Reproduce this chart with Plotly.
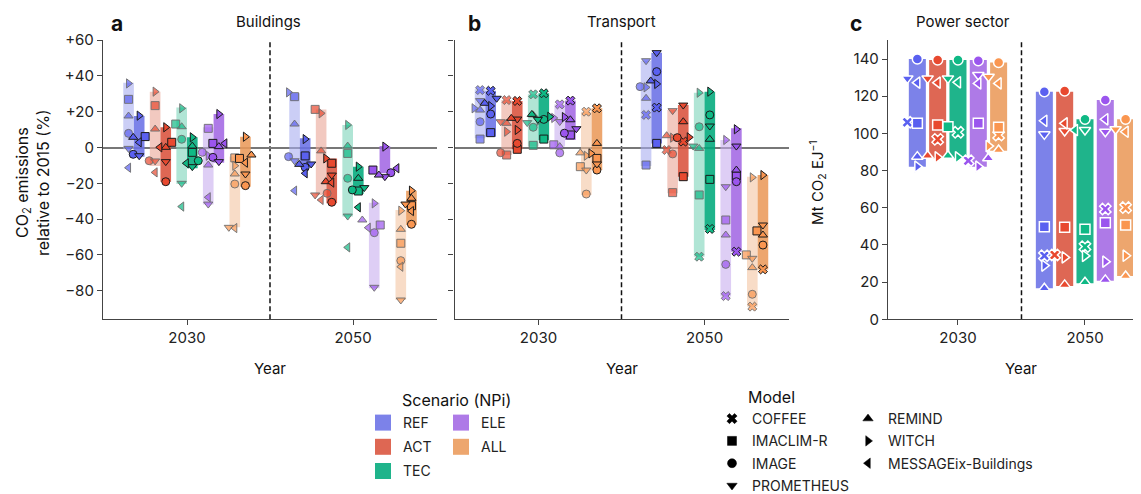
import plotly.graph_objects as go

# ---------------------------------------------------------------- data
SCENARIOS = ["REF", "ACT", "TEC", "ELE", "ALL"]
YEARS = ["2030", "2050"]

# buildings, CO2 change vs 2015 (%), rows = scenarios, cols = BLD_MODELS
BLD_MODELS = ["IMACLIM-R", "IMAGE", "PROMETHEUS", "REMIND", "WITCH", "MESSAGEix-Buildings"]
bld_2030_light = [[26.9, 7.9, -0.5, 17.6, 35.8, -11.3],
                  [23.4, -7.4, -7.5, 10.3, 31.2, -13.9],
                  [13.1, 4.6, -20.0, 11.6, 21.9, -33.0],
                  [10.7, -2.7, -31.6, -9.8, -4.6, -27.8],
                  [-5.8, -20.4, -44.6, -14.8, -10.2, -45.0]]
bld_2030_dark = [[6.1, -3.8, -4.6, 5.7, 17.8, 2.9],
                 [2.9, -19.1, -7.9, 0.1, 11.3, 0.1],
                 [-2.7, -7.4, -10.7, 0.8, 5.7, -8.8],
                 [2.3, -5.5, -7.9, 0.5, 18.7, 2.3],
                 [-6.1, -21.3, -14.8, -4.2, 6.0, -8.5]]
bld_2050_light = [[28.4, -5.1, -7.4, 13.1, 30.8, -24.1],
                  [21.3, -25.6, -26.5, -1.9, 19.1, -29.3],
                  [-3.3, -17.2, -38.3, 0.8, 12.6, -55.8],
                  [-43.3, -47.6, -78.1, -40.5, -31.2, -44.8],
                  [-53.5, -63.2, -85.2, -45.7, -35.3, -66.6]]
bld_2050_dark = [[-4.7, -11.1, -9.2, -9.4, 4.7, -14.4],
                 [-8.8, -30.6, -15.4, -19.1, -6.1, -19.6],
                 [-24.3, -23.7, -22.4, -17.2, -10.7, -33.4],
                 [-12.6, -14.1, -16.3, -15.4, 0.5, -11.6],
                 [-32.5, -42.9, -31.6, -28.4, -24.1, -35.5]]
# range bars (low, high)
bld_2030_light_bar = [(-1.0, 36.2), (-10.3, 31.2), (-20.4, 22.3), (-31.8, 11.3), (-44.6, -5.0)]
bld_2030_dark_bar = [(-5.1, 17.6), (-19.1, 11.3), (-11.6, 5.7), (-8.5, 18.7), (-21.9, 6.0)]
bld_2050_light_bar = [(-7.0, 30.3), (-26.5, 21.3), (-38.6, 12.6), (-78.7, -30.8), (-85.2, -34.9)]
bld_2050_dark_bar = [(-10.7, 5.1), (-31.2, -6.1), (-26.0, -10.7), (-14.4, 0.8), (-43.3, -24.1)]

# transport, CO2 change vs 2015 (%)
TRN_MODELS = ["COFFEE", "IMACLIM-R", "IMAGE", "PROMETHEUS", "REMIND", "WITCH"]
trn_2030_light = [[32.1, 4.7, 14.4, 26.2, 20.9, 21.9],
                  [26.5, -4.2, -2.9, 14.4, 13.5, 8.8],
                  [29.7, 1.2, 11.3, 13.9, 18.2, 15.0],
                  [24.1, 1.5, -3.0, 14.5, 0.5, 16.5],
                  [20.0, -10.7, -26.0, -12.6, -3.0, -4.6]]
trn_2030_dark = [[31.7, 8.3, 18.7, 27.5, 24.7, 23.2],
                 [26.0, -1.0, 2.3, 15.9, 16.3, 9.8],
                 [30.3, 4.7, 15.7, 15.7, 18.5, 17.2],
                 [26.2, 7.0, 8.0, 10.5, 15.5, 17.0],
                 [21.9, -6.1, -12.6, -9.2, 2.3, -3.3]]
trn_2050_light = [[18.2, -9.8, 34.0, 48.5, 27.5, 33.6],
                  [-1.4, -25.2, -3.6, 20.6, 6.6, 5.5],
                  [-61.0, -26.5, 11.6, 0.8, -0.5, 30.6],
                  [-83.0, -40.5, -65.3, -21.9, -48.9, 4.2],
                  [-88.9, -60.0, -82.0, -61.9, -67.1, -16.7]]
trn_2050_dark = [[22.3, 2.3, 42.4, 53.0, 37.2, 35.5],
                 [3.3, -16.3, 5.5, 23.7, 14.4, 5.7],
                 [-45.5, -17.8, 18.2, 12.0, 4.6, 31.2],
                 [-58.2, -15.9, -19.1, 0.8, -12.6, 10.2],
                 [-68.1, -46.6, -54.5, -43.3, -48.9, -15.4]]
trn_2030_light_bar = [(5.1, 32.5), (-4.2, 26.5), (0.5, 29.7), (0.5, 24.1), (-26.5, 20.0)]
trn_2030_dark_bar = [(6.0, 31.7), (-1.0, 26.0), (4.0, 30.3), (4.2, 26.2), (-12.6, 21.9)]
trn_2050_light_bar = [(-10.3, 48.5), (-25.6, 20.9), (-61.0, 30.6), (-83.3, 4.2), (-88.9, -16.3)]
trn_2050_dark_bar = [(2.3, 53.0), (-16.3, 23.7), (-46.1, 31.2), (-58.2, 10.7), (-68.1, -15.4)]

# power sector, Mt CO2 per EJ
PWR_MODELS = ["COFFEE", "IMACLIM-R", "IMAGE", "PROMETHEUS", "REMIND", "WITCH", "MESSAGEix-Buildings"]
pwr_2030 = [[106.0, 105.4, 140.0, 129.6, 87.5, 82.1, 127.3],
            [96.8, 104.5, 139.5, 129.6, 88.0, 87.1, 127.3],
            [100.6, 103.6, 139.5, 129.6, 88.0, 87.1, 127.5],
            [85.3, 105.4, 139.1, 131.4, 86.6, 82.1, 126.9],
            [99.1, 103.3, 138.2, 130.5, 91.1, 93.2, 126.9]]
pwr_2050 = [[34.2, 49.8, 122.4, 99.5, 16.7, 28.9, 106.8],
            [34.6, 49.5, 122.8, 101.3, 18.5, 33.3, 105.4],
            [39.1, 48.4, 107.6, 101.8, 19.9, 34.1, 101.8],
            [59.3, 52.0, 118.0, 100.9, 21.2, 31.0, 107.6],
            [60.1, 50.7, 107.6, 102.2, 23.3, 34.2, 100.9]]
pwr_2030_bar = [(82.1, 140.0), (86.6, 139.5), (86.6, 139.5), (82.1, 139.5), (90.7, 138.2)]
pwr_2050_bar = [(16.7, 122.4), (17.9, 122.4), (19.4, 107.6), (20.8, 118.0), (23.3, 107.6)]

# ---------------------------------------------------------------- style
MODEL_ORDER = ["COFFEE", "IMACLIM-R", "IMAGE", "PROMETHEUS", "REMIND", "WITCH", "MESSAGEix-Buildings"]
SYMBOLS = {"COFFEE": "x", "IMACLIM-R": "square", "IMAGE": "circle", "PROMETHEUS": "triangle-down",
           "REMIND": "triangle-up", "WITCH": "triangle-right", "MESSAGEix-Buildings": "triangle-left"}
MARKER_COL = ["#5a60f0", "#e8492f", "#0fb985", "#9b55ee", "#fa9650"]
BAR_DARK = ["#7c82e9", "#de6753", "#1fb48b", "#ae7ae7", "#eda66e"]
BAR_LIGHT = ["#cbcef6", "#f2c9c0", "#b0e5d5", "#decef5", "#f8dcc7"]
FONT = "Inter, Roboto, Arial, sans-serif"

# page body keeps its default 8px margin, so the figure is a bit smaller
PAGE_OFF = 8
W, H = 1141 - PAGE_OFF, 494 - PAGE_OFF


def rgba_on_white(hexcol, alpha):
    # rgba colour that gives hexcol when painted over white with given alpha
    r, g, b = (int(hexcol[i:i + 2], 16) for i in (1, 3, 5))
    f = lambda c: max(0, round(255 - (255 - c) / alpha))
    return f"rgba({f(r)},{f(g)},{f(b)},{alpha})"


def hexa(hexcol, a):
    r, g, b = (int(hexcol[i:i + 2], 16) for i in (1, 3, 5))
    return f"rgba({r},{g},{b},{a})"


def dodge(vals, thr, d):
    # push markers sideways when they sit on top of each other
    order = sorted(range(len(vals)), key=lambda i: vals[i])
    offs = [0.0] * len(vals)
    k, prev = 0, None
    for i in order:
        k = k + 1 if (prev is not None and vals[i] - prev < thr) else 0
        offs[i] = 0.0 if k == 0 else (-d if k % 2 else d) * ((k + 1) // 2)
        prev = vals[i]
    return offs


def px_x(p):
    return (p - PAGE_OFF) / W


def px_y(p):
    return 1 - (p - PAGE_OFF) / H


fig = go.Figure()

SPACING = 0.16


def add_range_panel(xa, ya, models, sets, bw, voff, thr, d, style):
    # sets: list over years of (values, bars)
    for si, sc in enumerate(SCENARIOS):
        xs, lo, hh = [], [], []
        for yi, (vals, bars) in enumerate(sets):
            xs.append(yi + (si - 2) * SPACING + voff)
            lo.append(bars[si][0])
            hh.append(bars[si][1] - bars[si][0])
        if style == "light":
            bcol = rgba_on_white(BAR_LIGHT[si], 0.6)
        else:
            bcol = rgba_on_white(BAR_DARK[si], 0.88)
        fig.add_trace(go.Bar(x=xs, y=hh, base=lo, width=bw, marker=dict(color=bcol, line_width=0),
                             xaxis=xa, yaxis=ya, showlegend=False, hoverinfo="skip"))
    for si, sc in enumerate(SCENARIOS):
        mx, my, sym = [], [], []
        for yi, (vals, bars) in enumerate(sets):
            row = vals[si]
            offs = dodge(row, thr, d)
            for mi, m in enumerate(models):
                mx.append(yi + (si - 2) * SPACING + voff + offs[mi])
                my.append(row[mi])
                sym.append(SYMBOLS[m])
        if style == "light":
            mk = dict(symbol=sym, size=8, color=hexa(MARKER_COL[si], 0.7),
                      line=dict(color="rgba(110,110,110,0.9)", width=1))
        elif style == "dark":
            mk = dict(symbol=sym, size=8, color=MARKER_COL[si],
                      line=dict(color="#1a1a1a", width=1))
        else:
            mk = dict(symbol=sym, size=10, color=MARKER_COL[si],
                      line=dict(color="white", width=1.5))
        fig.add_trace(go.Scatter(x=mx, y=my, mode="markers", marker=mk, xaxis=xa, yaxis=ya,
                                 showlegend=False, hoverinfo="skip"))


BW_AB, VOFF, D_AB = 0.064, 0.032, 0.036
add_range_panel("x", "y", BLD_MODELS, [(bld_2030_light, bld_2030_light_bar), (bld_2050_light, bld_2050_light_bar)],
                BW_AB, -VOFF, 3.0, D_AB, "light")
add_range_panel("x", "y", BLD_MODELS, [(bld_2030_dark, bld_2030_dark_bar), (bld_2050_dark, bld_2050_dark_bar)],
                BW_AB, VOFF, 3.0, D_AB, "dark")
add_range_panel("x2", "y2", TRN_MODELS, [(trn_2030_light, trn_2030_light_bar), (trn_2050_light, trn_2050_light_bar)],
                BW_AB, -VOFF, 3.0, D_AB, "light")
add_range_panel("x2", "y2", TRN_MODELS, [(trn_2030_dark, trn_2030_dark_bar), (trn_2050_dark, trn_2050_dark_bar)],
                BW_AB, VOFF, 3.0, D_AB, "dark")
add_range_panel("x3", "y3", PWR_MODELS, [(pwr_2030, pwr_2030_bar), (pwr_2050, pwr_2050_bar)],
                0.134, 0.0, 4.0, 0.079, "power")

# legend entries (one group each so the gap between rows can be set)
for si, sc in enumerate(SCENARIOS):
    fig.add_trace(go.Scatter(x=[None], y=[None], mode="markers", name=sc, legendgroup=sc,
                             marker=dict(symbol="square", size=16, color=BAR_DARK[si]),
                             legend="legend" if si < 3 else "legend2"))
for mi, m in enumerate(MODEL_ORDER):
    fig.add_trace(go.Scatter(x=[None], y=[None], mode="markers", name=m, legendgroup=m,
                             marker=dict(symbol=SYMBOLS[m], size=9, color="black",
                                         line=dict(color="black", width=0.5)),
                             legend="legend3" if mi < 4 else "legend4"))

# ---------------------------------------------------------------- axes
ydom = [px_y(319.3), px_y(40)]
AXCOL = "#444"
tickfont = dict(family=FONT, size=15, color="#222")
xcommon = dict(tickvals=[0, 1], ticktext=YEARS, ticks="outside", ticklen=5, tickcolor=AXCOL,
               showline=True, linecolor=AXCOL, linewidth=1.3, showgrid=False, zeroline=False,
               tickfont=tickfont, fixedrange=True)
ab_ticks = [-80, -60, -40, -20, 0, 20, 40, 60]
ab_text = ["\u221280", "\u221260", "\u221240", "\u221220", "0", "+20", "+40", "+60"]
ycommon = dict(ticks="outside", ticklen=5, tickcolor=AXCOL, showline=True, linecolor=AXCOL,
               linewidth=1.3, showgrid=False, tickfont=tickfont, domain=ydom)

fig.update_layout(
    xaxis=dict(domain=[px_x(103), px_x(437)], range=[-0.506, 1.506], anchor="y", **xcommon),
    xaxis2=dict(domain=[px_x(454.5), px_x(788.5)], range=[-0.506, 1.506], anchor="y2", **xcommon),
    xaxis3=dict(domain=[px_x(888), 1.0], range=[-0.551, 1.441], anchor="y3", **xcommon),
    yaxis=dict(range=[-95.98, 60.06], tickvals=ab_ticks, ticktext=ab_text, anchor="x",
               zeroline=True, zerolinecolor="#777", zerolinewidth=1.5, **ycommon),
    yaxis2=dict(range=[-95.98, 60.06], tickvals=ab_ticks, showticklabels=False, anchor="x2",
                zeroline=True, zerolinecolor="#777", zerolinewidth=1.5, **ycommon),
    yaxis3=dict(range=[0, 150.25], tickvals=list(range(0, 141, 20)), anchor="x3",
                zeroline=False, **ycommon),
)

for xr, yr in (("x", "y"), ("x2", "y2"), ("x3", "y3")):
    fig.add_shape(type="line", xref=xr, yref=yr + " domain", x0=0.5, x1=0.5, y0=0, y1=1,
                  line=dict(color="#111", width=1.5, dash="5px,3px"), layer="below")


# ---------------------------------------------------------------- text
def ann(text, x, y, size=15, bold=False, angle=0, xanchor="center", yanchor="middle"):
    fig.add_annotation(text=f"<b>{text}</b>" if bold else text, x=px_x(x), y=px_y(y),
                       xref="paper", yref="paper", showarrow=False, textangle=angle,
                       xanchor=xanchor, yanchor=yanchor,
                       font=dict(family=FONT, size=size, color="#111"))


ann("a", 117, 24, size=21, bold=True)
ann("Buildings", 268, 22)
ann("b", 474, 24, size=21, bold=True)
ann("Transport", 621, 22)
ann("c", 856, 24, size=21, bold=True)
ann("Power sector", 963, 22)
ann("CO<sub>2</sub> emissions<br>relative to 2015 (%)", 32, 183, size=16, angle=-90)
ann("Mt CO<sub>2</sub> EJ<sup>\u22121</sup>", 818, 182, size=15, angle=-90)
ann("Year", 270, 368)
ann("Year", 622, 368)
ann("Year", 1021, 368)
ann("Scenario (NPi)", 400, 400, size=16, xanchor="left")
ann("Model", 746, 397, size=16, xanchor="left")

legfont = dict(family=FONT, size=14, color="#222")
legcommon = dict(font=legfont, bgcolor="rgba(0,0,0,0)", xanchor="left",
                 orientation="v", itemclick=False, itemdoubleclick=False)
fig.update_layout(
    legend=dict(x=px_x(363), y=px_y(407), yanchor="top", tracegroupgap=3, **legcommon),
    legend2=dict(x=px_x(441), y=px_y(407), yanchor="top", tracegroupgap=3, **legcommon),
    # four rows: anchor at the bottom so the box is not cut to a scrolling one
    legend3=dict(x=px_x(712), y=px_y(502), yanchor="bottom", tracegroupgap=1.1, **legcommon),
    legend4=dict(x=px_x(848), y=px_y(403), yanchor="top", tracegroupgap=1.1, **legcommon),
)

fig.update_layout(
    width=W, height=H, autosize=False,
    margin=dict(l=0, r=0, t=0, b=0, autoexpand=False),
    barmode="overlay",
    plot_bgcolor="white", paper_bgcolor="white",
    font=dict(family=FONT, size=14, color="#222"),
)

fig.write_html("out.html")
